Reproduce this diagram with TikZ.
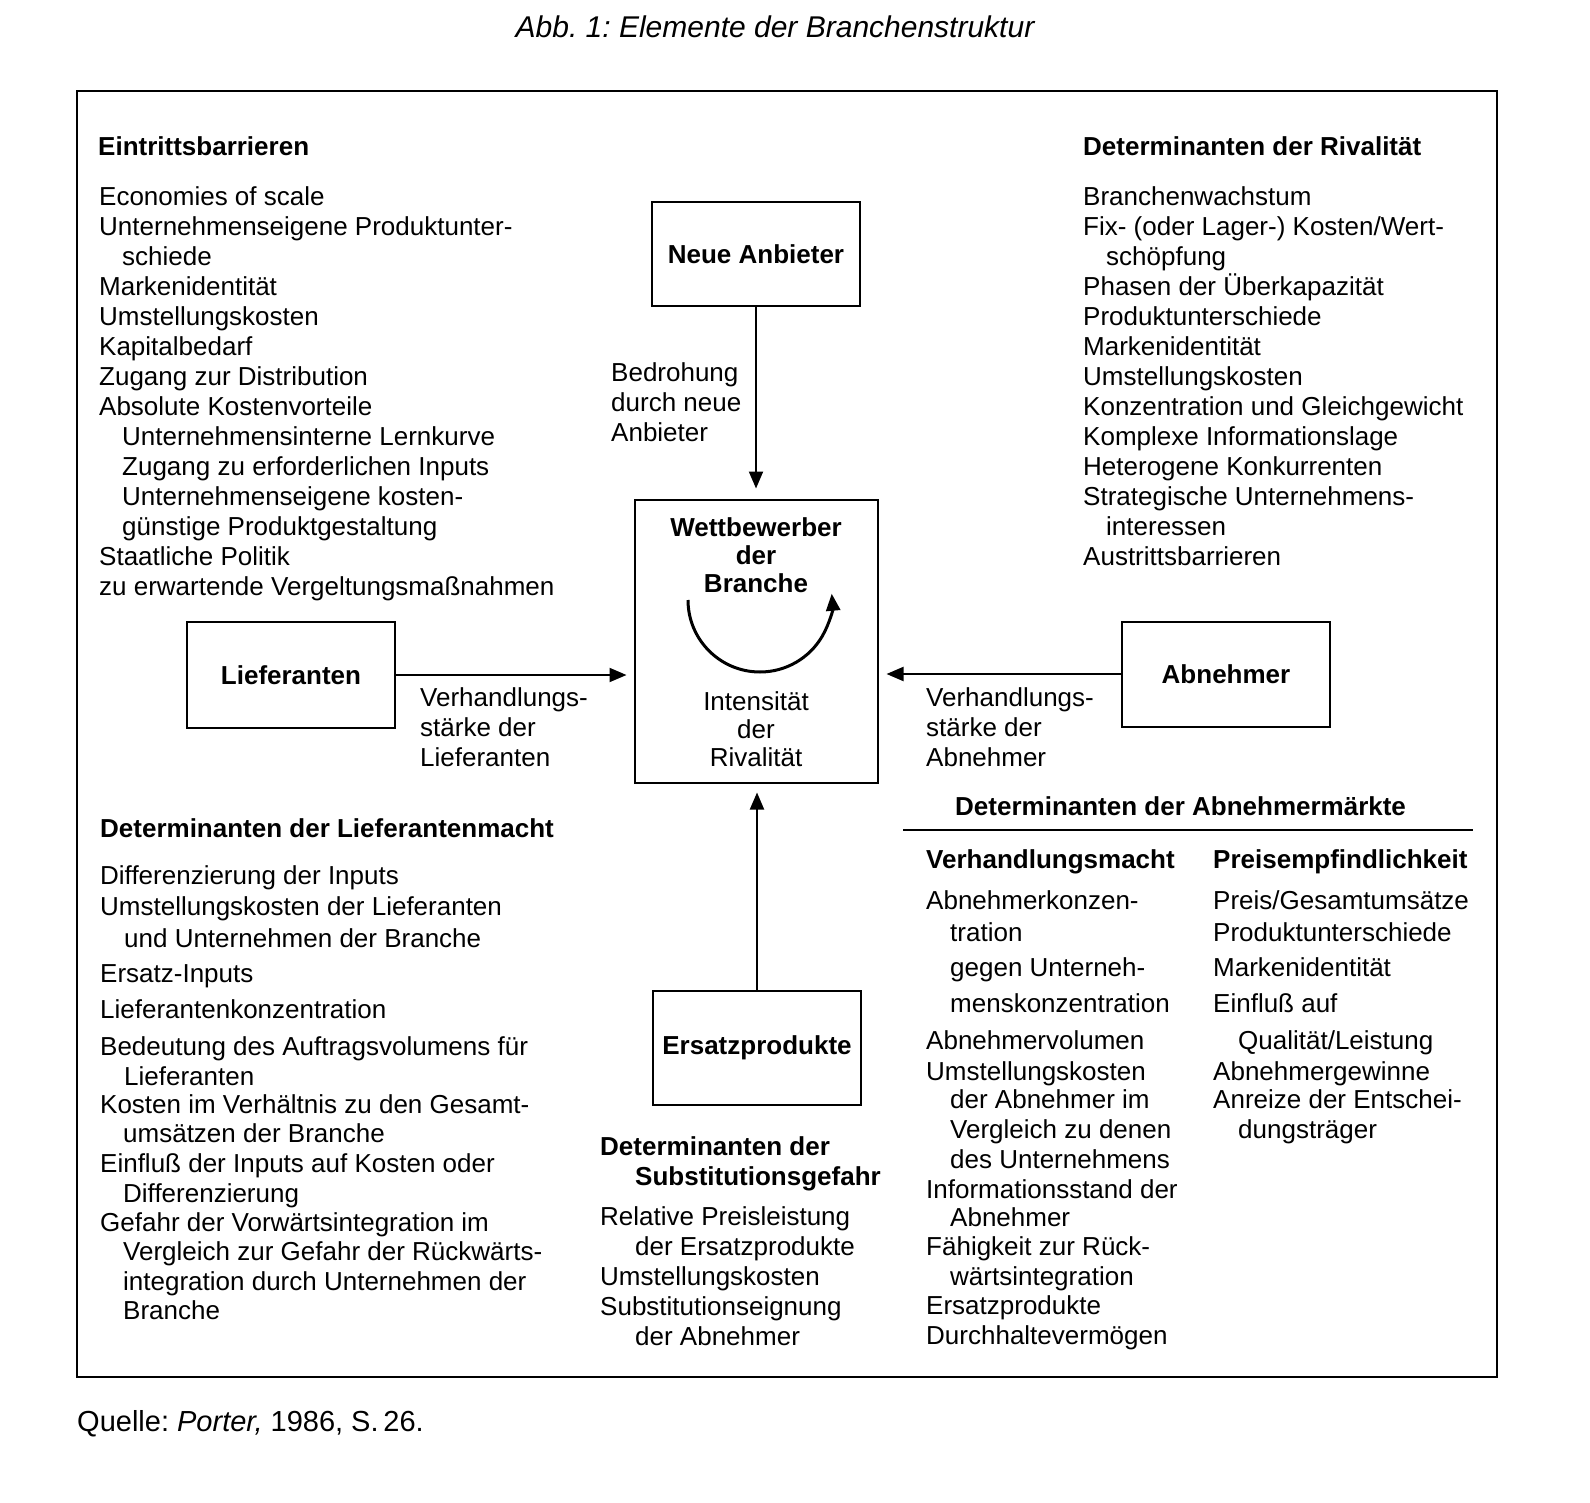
\documentclass[tikz,border=0pt]{standalone}
\usepackage{fontspec}
\setmainfont{Liberation Sans}
\usetikzlibrary{arrows.meta}
\frenchspacing
\newcommand\schrift{\fontsize{26}{30}\selectfont}
\newcommand\fettschrift{\fontsize{26}{30}\selectfont\bfseries}
\tikzset{
  kasten/.style={draw, line width=2pt, inner sep=0pt, font=\fettschrift},
  liste/.style={anchor=north west, inner sep=0pt, align=left, font=\schrift},
  kopf/.style={anchor=base west, inner sep=0pt, font=\fettschrift},
  pfeil/.style={->, line width=2pt},
  mitte/.style={anchor=north, inner sep=0pt, align=center, font=\fontsize{26}{28}\selectfont},
}
\begin{document}
\begin{tikzpicture}[x=1pt, y=-1pt, >={Triangle[length=17pt,width=14pt]}]
   \useasboundingbox (0,0) rectangle (1590,1503);
   \node[anchor=base, font=\fontsize{30}{36}\selectfont\itshape] (titel) at (775,38) {Abb. 1: Elemente der Branchenstruktur};
   \node[anchor=base west, inner sep=0pt, font=\fontsize{29}{34}\selectfont] (quelle) at (77,1431) {Quelle: \textit{Porter,} 1986, S.\,26.};
   \draw[line width=2pt] (77,91) rectangle (1497,1377);

   \node[kasten, minimum width=208pt, minimum height=104pt] (neu)  at (756,254)  {Neue Anbieter};
   \node[kasten, minimum width=243pt, minimum height=283pt] (wett) at (756,641)  {};
   \node[kasten, minimum width=208pt, minimum height=106pt] (lief) at (291,675)  {Lieferanten};
   \node[kasten, minimum width=208pt, minimum height=105pt] (abn)  at (1226,674) {Abnehmer};
   \node[kasten, minimum width=208pt, minimum height=114pt] (ers)  at (757,1048) {Ersatzprodukte};

   \draw[pfeil, shorten >=10pt] (neu.south) -- (neu.south |- wett.north);
   \draw[pfeil, shorten >=7pt]  (lief.east) -- (lief.east -| wett.west);
   \draw[pfeil, shorten >=8pt]  (abn.west)  -- (abn.west -| wett.east);
   \draw[pfeil, shorten >=9pt]  (ers.north) -- (ers.north |- wett.south);

   \node[mitte, font=\fontsize{26}{28}\selectfont\bfseries] (wett-titel) at (756,517) {\strut Wettbewerber\\der\\Branche};
   \draw[line width=3pt, ->] (688,600) arc[start angle=180, end angle=-5, radius=72];
   \node[mitte] (intensitaet) at (756,691) {\strut Intensität\\der\\Rivalität};

   \node[liste] (bedrohung) at (611,360) {\strut Bedrohung\\durch neue\\Anbieter};
   \node[liste] (vlief) at (420,685) {\strut Verhandlungs-\\stärke der\\Lieferanten};
   \node[liste] (vabn)  at (926,685) {\strut Verhandlungs-\\stärke der\\Abnehmer};

   \node[kopf] (eintritt-kopf) at (98,156) {Eintrittsbarrieren};
   \node[liste] (eintritt) at (99,184) {\strut Economies of scale\\
      Unternehmenseigene Produktunter-\\
      \hspace*{23pt}schiede\\
      Markenidentität\\
      Umstellungskosten\\
      Kapitalbedarf\\
      Zugang zur Distribution\\
      Absolute Kostenvorteile\\
      \hspace*{23pt}Unternehmensinterne Lernkurve\\
      \hspace*{23pt}Zugang zu erforderlichen Inputs\\
      \hspace*{23pt}Unternehmenseigene kosten-\\
      \hspace*{23pt}günstige Produktgestaltung\\
      Staatliche Politik\\
      zu erwartende Vergeltungsmaßnahmen};

   \node[kopf] (rival-kopf) at (1083,156) {Determinanten der Rivalität};
   \node[liste] (rival) at (1083,184) {\strut Branchenwachstum\\
      Fix- (oder Lager-) Kosten/Wert-\\
      \hspace*{23pt}schöpfung\\
      Phasen der Überkapazität\\
      Produktunterschiede\\
      Markenidentität\\
      Umstellungskosten\\
      Konzentration und Gleichgewicht\\
      Komplexe Informationslage\\
      Heterogene Konkurrenten\\
      Strategische Unternehmens-\\
      \hspace*{23pt}interessen\\
      Austrittsbarrieren};

   \node[kopf] (liefmacht-kopf) at (100,837) {Determinanten der Lieferantenmacht};
   \node[liste] (liefmacht) at (100,863) {\strut Differenzierung der Inputs\\[1pt]
      Umstellungskosten der Lieferanten\\[2pt]
      \hspace*{24pt}und Unternehmen der Branche\\[5pt]
      Ersatz-Inputs\\[6pt]
      Lieferantenkonzentration\\[7pt]
      Bedeutung des Auftragsvolumens für\\
      \hspace*{24pt}Lieferanten\\[-2pt]
      Kosten im Verhältnis zu den Gesamt-\\[-1pt]
      \hspace*{23pt}umsätzen der Branche\\
      Einfluß der Inputs auf Kosten oder\\
      \hspace*{23pt}Differenzierung\\[-1pt]
      Gefahr der Vorwärtsintegration im\\[-1pt]
      \hspace*{23pt}Vergleich zur Gefahr der Rückwärts-\\
      \hspace*{23pt}integration durch Unternehmen der\\[-1pt]
      \hspace*{23pt}Branche};

   \node[liste, font=\fettschrift] (subst-kopf) at (600,1134) {\strut Determinanten der\\\hspace*{35pt}Substitutionsgefahr};
   \node[liste] (subst) at (600,1204) {\strut Relative Preisleistung\\
      \hspace*{35pt}der Ersatzprodukte\\
      Umstellungskosten\\
      Substitutionseignung\\
      \hspace*{35pt}der Abnehmer};

   \node[kopf] (abnm-kopf) at (955,815) {Determinanten der Abnehmermärkte};
   \coordinate (linie-a) at (903,830);
   \coordinate (linie-b) at (1473,830);
   \draw[line width=1.5pt] (linie-a) -- (linie-b);
   \node[kopf] (verh-kopf)  at (926,868)  {Verhandlungsmacht};
   \node[kopf] (preis-kopf) at (1213,868) {Preisempfindlichkeit};
   \node[liste] (verh) at (926,888) {\strut Abnehmerkonzen-\\[2pt]
      \hspace*{24pt}tration\\[5pt]
      \hspace*{24pt}gegen Unterneh-\\[6pt]
      \hspace*{24pt}menskonzentration\\[7pt]
      Abnehmervolumen\\[1pt]
      Umstellungskosten\\[-2pt]
      \hspace*{24pt}der Abnehmer im\\
      \hspace*{24pt}Vergleich zu denen\\
      \hspace*{24pt}des Unternehmens\\
      Informationsstand der\\[-2pt]
      \hspace*{24pt}Abnehmer\\[-1pt]
      Fähigkeit zur Rück-\\
      \hspace*{24pt}wärtsintegration\\[-1pt]
      Ersatzprodukte\\
      Durchhaltevermögen};
   \node[liste] (preis) at (1213,888) {\strut Preis/Gesamtumsätze\\[2pt]
      Produktunterschiede\\[5pt]
      Markenidentität\\[6pt]
      Einfluß auf\\[7pt]
      \hspace*{25pt}Qualität/Leistung\\[1pt]
      Abnehmergewinne\\[-2pt]
      Anreize der Entschei-\\
      \hspace*{25pt}dungsträger};
\end{tikzpicture}
\end{document}
